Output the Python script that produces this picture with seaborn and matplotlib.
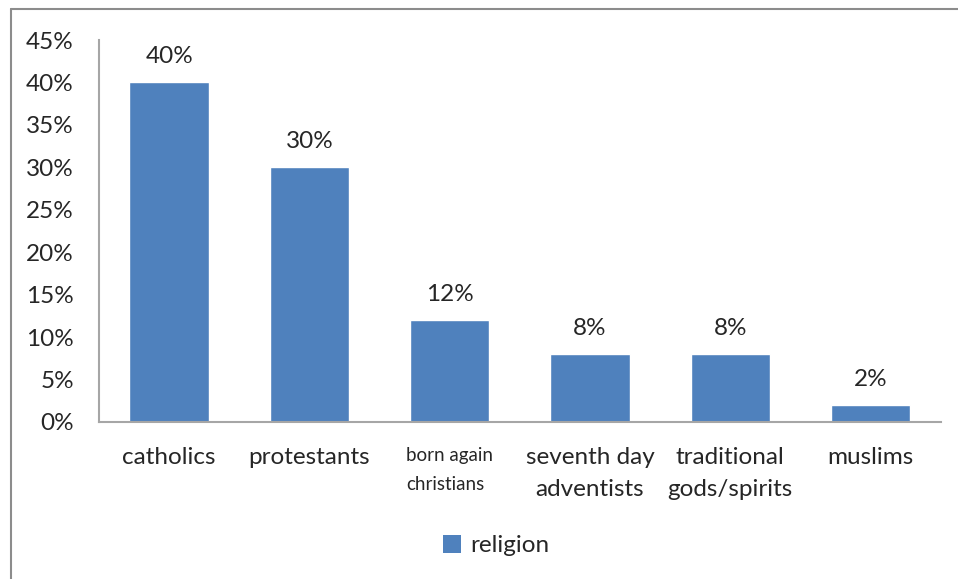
import matplotlib
matplotlib.use("Agg")
import matplotlib.pyplot as plt
import seaborn as sns
import pandas as pd
from matplotlib.lines import Line2D
from matplotlib.patches import Patch

# data
categories = ["catholics", "protestants", "born again\nchristians",
              "seventh day\nadventists", "traditional\ngods/spirits", "muslims"]
shares = [40, 30, 12, 8, 8, 2]
yticks = [0, 5, 10, 15, 20, 25, 30, 35, 40, 45]

sns.set_style("white")
plt.rcParams["font.family"] = ["Lato", "DejaVu Sans"]

df = pd.DataFrame({"category": categories, "share": shares})

fig = plt.figure(figsize=(9.58, 5.79), dpi=100)
ax = fig.add_axes([0.1033, 0.2712, 0.8787, 0.6597])

sns.barplot(data=df, x="category", y="share", color="#4F81BD",
            width=0.565, saturation=1, ax=ax)

ax.bar_label(ax.containers[0], labels=[f"{v}%" for v in shares],
             padding=11, fontsize=17.5)

ax.set_ylim(0, 45)
ax.set_yticks(yticks)
ax.set_yticklabels([f"{t}%" for t in yticks], fontsize=17.5)
ax.set_xlabel("")
ax.set_ylabel("")
ax.tick_params(axis="y", length=0, pad=18)
ax.tick_params(axis="x", length=0, pad=18)
for lab in ax.get_xticklabels():
    lab.set_fontsize(17.5)
    lab.set_verticalalignment("top")
    lab.set_linespacing(1.65)
xl = ax.get_xticklabels()
xl[2].set_fontsize(13.5)
xl[2].set_multialignment("left")
xl[2].set_linespacing(1.85)

for side in ["top", "right"]:
    ax.spines[side].set_visible(False)
for side in ["left", "bottom"]:
    ax.spines[side].set_color("#A6A6A6")
    ax.spines[side].set_linewidth(1.5)

# outer chart frame (left and top edges visible)
fig.add_artist(Line2D([11 / 958, 11 / 958], [0, 1 - 9 / 579],
                      color="#8C8C8C", lw=1.5, transform=fig.transFigure))
fig.add_artist(Line2D([11 / 958, 1], [1 - 9 / 579, 1 - 9 / 579],
                      color="#8C8C8C", lw=1.5, transform=fig.transFigure))

handle = Patch(facecolor="#4F81BD", edgecolor="none")
fig.legend([handle], ["religion"], loc="center", bbox_to_anchor=(0.518, 0.058),
           frameon=False, fontsize=17.5, handlelength=0.75, handleheight=0.75,
           handletextpad=0.4)

fig.savefig("out.png", dpi=100)
